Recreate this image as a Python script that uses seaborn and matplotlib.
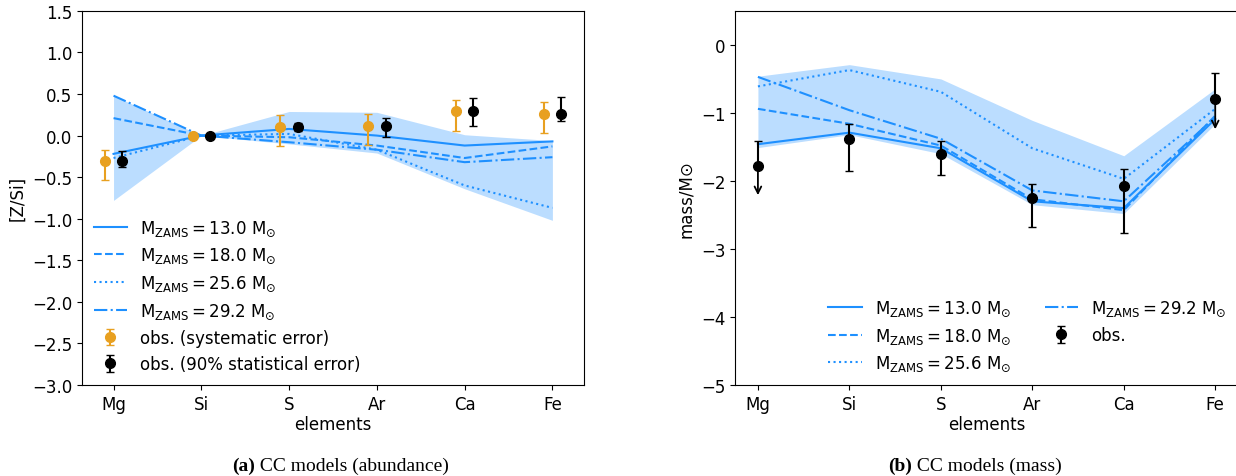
import numpy as np
import pandas as pd
import matplotlib
matplotlib.use('Agg')
import matplotlib.pyplot as plt
import seaborn as sns

plt.rcParams['font.size'] = 12

# element names and model labels
elements = ['Mg', 'Si', 'S', 'Ar', 'Ca', 'Fe']
masses = ['13.0', '18.0', '25.6', '29.2']

# (a) abundance [Z/Si] for each CC model
abund_13 = [-0.22, 0.0, 0.08, 0.00, -0.12, -0.07]
abund_18 = [0.21, 0.0, -0.02, -0.12, -0.27, -0.13]
abund_25 = [-0.27, 0.0, 0.02, -0.17, -0.60, -0.87]
abund_29 = [0.48, 0.0, -0.08, -0.17, -0.32, -0.26]
abund_band_lo = [-0.78, 0.0, -0.10, -0.21, -0.64, -1.02]
abund_band_hi = [0.48, 0.0, 0.29, 0.28, 0.01, -0.06]

# observed abundances
obs_abund = [-0.31, 0.0, 0.10, 0.12, 0.29, 0.26]
sys_lo = [0.22, 0.0, 0.22, 0.23, 0.23, 0.23]
sys_hi = [0.14, 0.0, 0.15, 0.14, 0.14, 0.14]
stat_lo = [0.07, 0.0, 0.05, 0.14, 0.18, 0.08]
stat_hi = [0.12, 0.0, 0.05, 0.09, 0.16, 0.21]

# (b) mass (log) for each CC model
mass_13 = [-1.46, -1.29, -1.52, -2.30, -2.40, -1.09]
mass_18 = [-0.94, -1.16, -1.48, -2.27, -2.43, -1.04]
mass_25 = [-0.61, -0.37, -0.69, -1.52, -1.97, -0.94]
mass_29 = [-0.47, -0.96, -1.38, -2.14, -2.30, -1.06]
mass_band_lo = [-1.51, -1.32, -1.60, -2.35, -2.48, -1.16]
mass_band_hi = [-0.46, -0.29, -0.50, -1.11, -1.63, -0.645]

# observed masses; Mg and Fe are upper limits
obs_mass = [-1.78, -1.39, -1.60, -2.25, -2.07, -0.80]
mass_lo = [0.43, 0.46, 0.32, 0.43, 0.69, 0.44]
mass_hi = [0.37, 0.22, 0.18, 0.21, 0.25, 0.39]
uplim = [True, False, False, False, False, True]

blue = 'dodgerblue'
orange = '#E8A020'
styles = ['-', '--', ':', '-.']

x = np.arange(len(elements))
df_a = pd.DataFrame({'x': np.tile(x, 4), 'mass': np.repeat(masses, 6),
                     'val': abund_13 + abund_18 + abund_25 + abund_29})
df_b = pd.DataFrame({'x': np.tile(x, 4), 'mass': np.repeat(masses, 6),
                     'val': mass_13 + mass_18 + mass_25 + mass_29})

fig = plt.figure(figsize=(12.36, 4.77), dpi=100)
ax1 = fig.add_axes([0.0663, 0.191, 0.4062, 0.784])
ax2 = fig.add_axes([0.5947, 0.191, 0.4070, 0.784])

def lab(m):
    return r'$\mathrm{M_{ZAMS}} = %s\ \mathrm{M_{\odot}}$' % m

# --- left panel
ax1.fill_between(x, abund_band_lo, abund_band_hi, color=blue, alpha=0.3, lw=0)
for m, ls in zip(masses, styles):
    sns.lineplot(data=df_a[df_a['mass'] == m], x='x', y='val', ax=ax1,
                 color=blue, linestyle=ls, lw=1.5, label=lab(m))
ax1.errorbar(x - 0.1, obs_abund, yerr=[sys_lo, sys_hi], fmt='o', color=orange,
             ms=7, capsize=3, elinewidth=1.5, label='obs. (systematic error)')
ax1.errorbar(x + 0.1, obs_abund, yerr=[stat_lo, stat_hi], fmt='o', color='black',
             ms=7, capsize=3, elinewidth=1.5, label='obs. (90% statistical error)')
ax1.set_ylim(-3.0, 1.5)
ax1.set_yticks(np.arange(-3.0, 1.51, 0.5))
ax1.set_xticks(x)
ax1.set_xticklabels(elements)
ax1.set_xlabel('elements', labelpad=2)
ax1.set_ylabel('[Z/Si]')
ax1.legend(loc='lower left', frameon=False, borderaxespad=0.3)

# --- right panel
ax2.fill_between(x, mass_band_lo, mass_band_hi, color=blue, alpha=0.3, lw=0)
for m, ls in zip(masses, styles):
    sns.lineplot(data=df_b[df_b['mass'] == m], x='x', y='val', ax=ax2,
                 color=blue, linestyle=ls, lw=1.5, label=lab(m))
lo_bar = [0 if u else e for u, e in zip(uplim, mass_lo)]
ax2.errorbar(x, obs_mass, yerr=[lo_bar, mass_hi], fmt='o', color='black',
             ms=7, capsize=3, elinewidth=1.5, label='obs.')
for xi, yi, e, u in zip(x, obs_mass, mass_lo, uplim):
    if u:
        ax2.annotate('', xy=(xi, yi - e), xytext=(xi, yi),
                     arrowprops=dict(arrowstyle='->', color='black', lw=1.3,
                                     shrinkA=0, shrinkB=0))
ax2.set_ylim(-5, 0.5)
ax2.set_xticks(x)
ax2.set_xticklabels(elements)
ax2.set_xlabel('elements', labelpad=2)
ax2.set_ylabel('mass/M\u2299')
ax2.legend(loc='lower right', ncol=2, frameon=False, borderaxespad=0.3)

# captions
serif = 'Liberation Serif'
t1 = fig.text(232 / 1236, 0.012, '(a)', fontsize=14, family=serif, weight='bold')
ax1.annotate(' CC models (abundance)', xy=(1, 0), xycoords=t1, va='bottom',
             fontsize=14, family=serif, annotation_clip=False)
t2 = fig.text(888 / 1236, 0.012, '(b)', fontsize=14, family=serif, weight='bold')
ax2.annotate(' CC models (mass)', xy=(1, 0), xycoords=t2, va='bottom',
             fontsize=14, family=serif, annotation_clip=False)

fig.savefig('out.png', dpi=100)
